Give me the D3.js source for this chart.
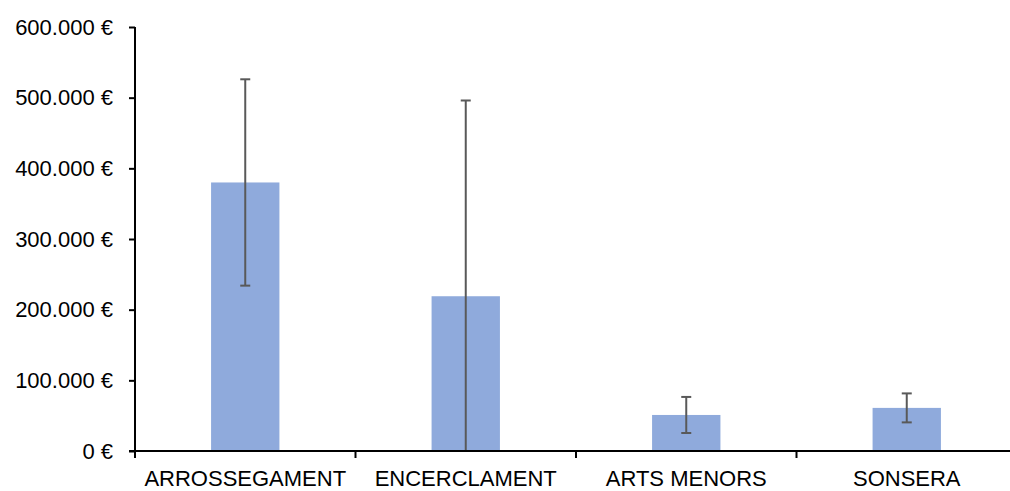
<!DOCTYPE html>
<html><head><meta charset="utf-8">
<script src="https://cdn.jsdelivr.net/npm/d3@7"></script>
<style>body{margin:0;background:#fff}svg{display:block}text{font-family:"Liberation Sans",Arial,sans-serif}</style>
</head><body>
<svg id="c" width="1010" height="491"></svg>
<script>
const categories = ["ARROSSEGAMENT", "ENCERCLAMENT", "ARTS MENORS", "SONSERA"];
const values = [380000, 219000, 51000, 61000];
const errors = [146000, 277000, 25500, 20500];
const yTicks = [0, 100000, 200000, 300000, 400000, 500000, 600000];

const svg = d3.select("#c");
const mLeft = 135, mRight = 1017, mTop = 27, mBottom = 451;
const x = d3.scaleBand().domain(categories).range([mLeft, mRight]).paddingInner(0.69).paddingOuter(0.345);
const y = d3.scaleLinear().domain([0, 600000]).range([mBottom, mTop]);
const fmt = v => d3.format(",")(v).replace(/,/g, ".") + " €";

// bars
svg.selectAll("rect.bar").data(categories).join("rect")
  .attr("x", d => x(d)).attr("width", x.bandwidth())
  .attr("y", (d, i) => y(values[i])).attr("height", (d, i) => y(0) - y(values[i]))
  .attr("fill", "#8FAADC");

// error bars
const eg = svg.append("g").attr("stroke", "#595959").attr("stroke-width", 2);
categories.forEach((c, i) => {
  const cx = x(c) + x.bandwidth() / 2;
  const hi = values[i] + errors[i], lo = Math.max(0, values[i] - errors[i]);
  eg.append("line").attr("x1", cx).attr("x2", cx).attr("y1", y(hi)).attr("y2", y(lo));
  eg.append("line").attr("x1", cx - 5).attr("x2", cx + 5).attr("y1", y(hi)).attr("y2", y(hi));
  if (values[i] - errors[i] > 0)
    eg.append("line").attr("x1", cx - 5).attr("x2", cx + 5).attr("y1", y(lo)).attr("y2", y(lo));
});

// y axis
const ya = svg.append("g").attr("transform", `translate(${mLeft},0)`)
  .call(d3.axisLeft(y).tickValues(yTicks).tickFormat(fmt).tickSize(6).tickPadding(16));
ya.select(".domain").attr("stroke", "#000").attr("stroke-width", 2).attr("d", `M0,${mTop}V${mBottom}`);
ya.selectAll(".tick line").attr("stroke", "#000").attr("stroke-width", 2);
ya.selectAll(".tick text").attr("font-size", 22).attr("fill", "#000").attr("font-family", '"Liberation Sans",Arial,sans-serif');

// x axis
const step = x.step();
const boundaries = d3.range(0, categories.length).map(i => mLeft + i * step);
const xa = svg.append("g").attr("transform", `translate(0,${mBottom})`);
xa.append("line").attr("x1", mLeft - 6).attr("x2", 1010).attr("y1", 0).attr("y2", 0).attr("stroke", "#000").attr("stroke-width", 2);
xa.selectAll("line.tk").data(boundaries).join("line").attr("class", "tk")
  .attr("x1", d => d).attr("x2", d => d).attr("y1", 0).attr("y2", 7).attr("stroke", "#000").attr("stroke-width", 2);
xa.selectAll("text").data(categories).join("text")
  .attr("x", d => x(d) + x.bandwidth() / 2).attr("y", 35)
  .attr("text-anchor", "middle").attr("font-size", 22).attr("fill", "#000").text(d => d);
</script>
</body></html>
